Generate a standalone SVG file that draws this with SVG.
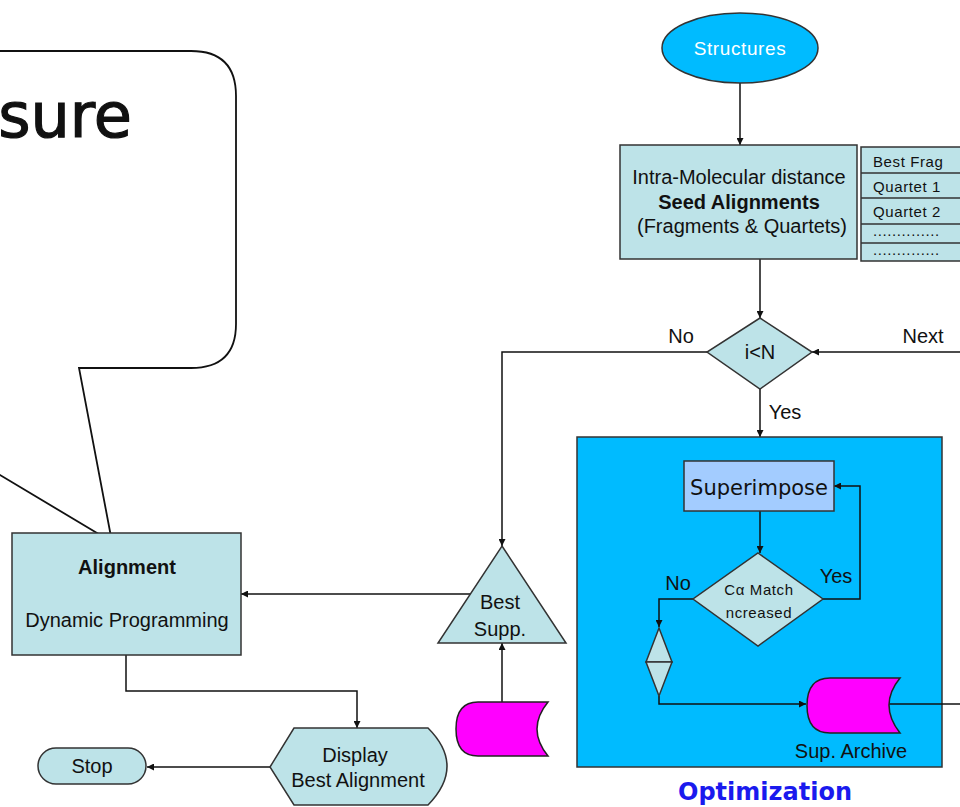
<svg xmlns="http://www.w3.org/2000/svg" width="960" height="807" viewBox="0 0 960 807">
  <defs>
    <marker id="arr" viewBox="0 0 10 10" refX="10" refY="5" markerWidth="7" markerHeight="7" orient="auto" markerUnits="userSpaceOnUse">
      <path d="M0,0 L10,5 L0,10 z" fill="#111"/>
    </marker>
  </defs>
  <style>
    .lbl { font-family: "Liberation Sans", Arial, sans-serif; font-size: 20px; fill: #111; }
    .small { font-family: "Liberation Sans", Arial, sans-serif; font-size: 15px; letter-spacing: 0.6px; fill: #111; }
    .node { fill: #bde3e8; stroke: #333; stroke-width: 1.5; }
    .edge { fill: none; stroke: #111; stroke-width: 1.5; }
    .store { fill: #ff00ff; stroke: #222; stroke-width: 1.5; }
  </style>
  <rect width="960" height="807" fill="#ffffff"/>

  <!-- callout balloon -->
  <g id="callout">
    <path d="M-20,51 L191,51 Q236,51 236,96 L236,324 Q236,368 191,368 L79,368 L112,542 L-20,463" fill="#ffffff" stroke="#111" stroke-width="1.8"/>
    <text x="132" y="137" text-anchor="end" font-family="'DejaVu Sans', sans-serif" font-size="62" fill="#111" stroke="#111" stroke-width="1.2">Measure</text>
  </g>

  <!-- connectors -->
  <g id="connectors">
    <line class="edge" x1="740" y1="83" x2="740" y2="145" marker-end="url(#arr)"/>
    <line class="edge" x1="760" y1="259" x2="760" y2="318" marker-end="url(#arr)"/>
    <line class="edge" x1="960" y1="352" x2="812" y2="352" marker-end="url(#arr)"/>
    <polyline class="edge" points="707,352 502,352 502,546" marker-end="url(#arr)"/>
    <line class="edge" x1="760" y1="389" x2="760" y2="437" marker-end="url(#arr)"/>
    <line class="edge" x1="471" y1="594" x2="241" y2="594" marker-end="url(#arr)"/>
    <line class="edge" x1="502" y1="702" x2="502" y2="643" marker-end="url(#arr)"/>
    <polyline class="edge" points="126,655 126,691 357,691 357,728" marker-end="url(#arr)"/>
    <line class="edge" x1="270" y1="767" x2="147" y2="767" marker-end="url(#arr)"/>
  </g>

  <!-- optimization block -->
  <g id="optimization">
    <rect x="577" y="437" width="365" height="330" fill="#00bbff" stroke="#333" stroke-width="1.5"/>
    <text x="765" y="800" text-anchor="middle" font-family="'DejaVu Sans', sans-serif" font-size="24" font-weight="bold" fill="#1a1aee">Optimization</text>
  </g>

  <g id="opt-connectors">
    <line class="edge" x1="760" y1="511" x2="760" y2="553" marker-end="url(#arr)"/>
    <polyline class="edge" points="823,599 860,599 860,486 834,486" marker-end="url(#arr)"/>
    <polyline class="edge" points="693,599 659,599 659,627" marker-end="url(#arr)"/>
    <polyline class="edge" points="659,696 659,704 806,704" marker-end="url(#arr)"/>
    <line class="edge" x1="885" y1="704" x2="960" y2="704"/>
  </g>

  <g id="structures">
    <ellipse cx="740" cy="48" rx="78" ry="35" fill="#00bbff" stroke="#333" stroke-width="1.5"/>
    <text x="740" y="55" text-anchor="middle" font-family="'Liberation Sans', sans-serif" font-size="19" letter-spacing="0.6" fill="#ffffff">Structures</text>
  </g>

  <g id="seed">
    <rect class="node" x="620" y="145" width="237" height="114"/>
    <text class="lbl" x="739" y="184" text-anchor="middle">Intra-Molecular distance</text>
    <text class="lbl" x="739" y="209" text-anchor="middle" font-weight="bold">Seed Alignments</text>
    <text class="lbl" x="742" y="233" text-anchor="middle">(Fragments &amp; Quartets)</text>
  </g>

  <g id="seed-table">
    <rect class="node" x="861" y="147" width="110" height="114"/>
    <line x1="861" y1="173" x2="960" y2="173" stroke="#333" stroke-width="1.5"/>
    <line x1="861" y1="198" x2="960" y2="198" stroke="#333" stroke-width="1.5"/>
    <line x1="861" y1="224" x2="960" y2="224" stroke="#333" stroke-width="1.5"/>
    <line x1="861" y1="243" x2="960" y2="243" stroke="#333" stroke-width="1.5"/>
    <text class="small" x="873" y="167">Best Frag</text>
    <text class="small" x="873" y="192">Quartet 1</text>
    <text class="small" x="873" y="217">Quartet 2</text>
    <text class="small" x="873" y="236">..............</text>
    <text class="small" x="873" y="255">..............</text>
  </g>

  <g id="loop-test">
    <polygon class="node" points="760,318 812,352 760,389 707,352"/>
    <text class="lbl" x="760" y="359" text-anchor="middle">i&lt;N</text>
    <text class="lbl" x="681" y="343" text-anchor="middle">No</text>
    <text class="lbl" x="923" y="343" text-anchor="middle">Next</text>
    <text class="lbl" x="785" y="419" text-anchor="middle">Yes</text>
  </g>

  <g id="superimpose">
    <rect x="684" y="461" width="150" height="50" fill="#a3ccff" stroke="#333" stroke-width="1.5"/>
    <text x="759" y="495" text-anchor="middle" font-family="'DejaVu Sans', sans-serif" font-size="21" fill="#111">Superimpose</text>
  </g>

  <g id="match-test">
    <polygon class="node" points="758,553 823,599 758,646 693,599"/>
    <text class="small" x="759" y="595" text-anchor="middle">Cα Match</text>
    <text class="small" x="759" y="618" text-anchor="middle">ncreased</text>
    <text class="lbl" x="678" y="590" text-anchor="middle">No</text>
    <text class="lbl" x="836" y="583" text-anchor="middle">Yes</text>
  </g>

  <g id="collate">
    <polygon class="node" points="659,628 672,662 646,662"/>
    <polygon class="node" points="646,662 672,662 659,696"/>
  </g>

  <g id="sup-archive">
    <path class="store" d="M830,678 L900,678 Q878,705 900,733 L830,733 Q807,733 807,705.5 Q807,678 830,678 z"/>
    <text x="851" y="758" text-anchor="middle" font-family="'Liberation Sans', sans-serif" font-size="20" fill="#111">Sup. Archive</text>
  </g>

  <g id="best-supp">
    <polygon class="node" points="502,546 566,643 438,643"/>
    <text class="lbl" x="500" y="609" text-anchor="middle">Best</text>
    <text class="lbl" x="500" y="636" text-anchor="middle">Supp.</text>
  </g>

  <g id="archive">
    <path class="store" d="M478,702 L548,702 Q526,729 548,756 L478,756 Q456,756 456,729 Q456,702 478,702 z"/>
  </g>

  <g id="alignment">
    <rect class="node" x="12" y="533" width="229" height="122"/>
    <text class="lbl" x="127" y="574" text-anchor="middle" font-weight="bold">Alignment</text>
    <text class="lbl" x="127" y="627" text-anchor="middle">Dynamic Programming</text>
  </g>

  <g id="display">
    <path class="node" d="M270,767 L294,728 L428,728 Q466,766 428,805 L294,805 z"/>
    <text class="lbl" x="355" y="762" text-anchor="middle">Display</text>
    <text class="lbl" x="358" y="787" text-anchor="middle">Best Alignment</text>
  </g>

  <g id="stop">
    <rect class="node" x="38" y="748" width="108" height="36" rx="18" ry="18"/>
    <text class="lbl" x="92" y="773" text-anchor="middle">Stop</text>
  </g>
</svg>
